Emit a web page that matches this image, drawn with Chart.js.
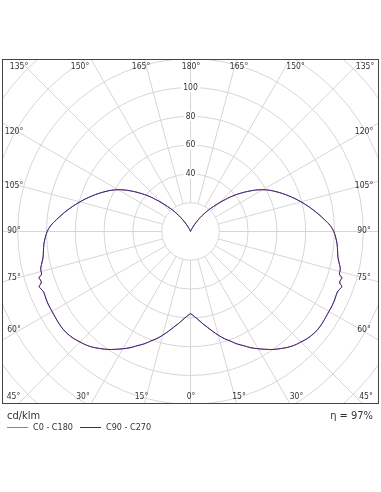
<!DOCTYPE html>
<html>
<head>
<meta charset="utf-8">
<script src="https://cdn.jsdelivr.net/npm/chart.js@4"></script>
<style>
  html, body { margin: 0; padding: 0; background: #fff; }
  canvas { display: block; }
</style>
</head>
<body>
<canvas id="ldc" width="381" height="492"></canvas>
<script>
// gamma angles (deg, 0 = straight down) and intensities in cd/klm
const gammaAngles = [
  0, 2.5, 5, 7.5, 10, 12.5, 15, 17.5, 20, 22.5, 25, 27.5, 30, 32.5, 35, 37.5,
  40, 42.5, 45, 47.5, 50, 52.5, 55, 57.5, 60, 62.5, 65,
  67.5, 69, 70, 71, 72, 73, 74, 75, 76, 77.5,
  80, 82.5, 85, 87.5, 90, 92.5, 95, 97.5, 100, 102.5, 105, 107.5, 110, 112.5, 115, 117.5,
  120, 122.5, 125, 127.5, 130, 132.5, 135, 137.5, 140, 142.5, 145, 147.5, 150, 152.5, 155, 157.5,
  160, 162.5, 165, 167.5, 170, 172.5, 175, 177.5, 180
];
const c0c180 = [
  57, 59, 61.5, 64.5, 67.5, 71, 74.5, 78, 81, 84.5, 87.5, 91, 94, 97, 100, 102.5,
  105, 107, 108.5, 110, 111, 111.5, 111.5, 111.2, 111, 111, 110.7,
  110.3, 111.2, 111.8, 109.6, 109.5, 109.9, 107.6, 107.4, 107.2, 106,
  104, 103, 102.2, 101, 99.5, 97, 93.5, 90, 86.5, 83, 79.5, 76, 72.5, 69, 65.5, 62,
  58, 53.5, 48.5, 43.5, 38.5, 33, 28, 23.5, 19.5, 15.5, 12, 8.5, 5.5, 3, 1.5, 0.5,
  0, 0, 0, 0, 0, 0, 0, 0, 0
];
const c90c270 = [
  57, 59, 61.5, 64.5, 67.5, 71, 74.5, 78, 81, 84.5, 87.5, 91, 94, 97, 100, 102.5,
  105, 107, 108.5, 110, 111, 111.5, 111.5, 111.2, 111, 111, 110.7,
  110.3, 111.2, 111.8, 109.6, 109.5, 109.9, 107.6, 107.4, 107.2, 106,
  104, 103, 102.2, 101, 99.5, 97, 93.5, 90, 86.5, 83, 79.5, 76, 72.5, 69, 65.5, 62,
  58, 53.5, 48.5, 43.5, 38.5, 33, 28, 23.5, 19.5, 15.5, 12, 8.5, 5.5, 3, 1.5, 0.5,
  0, 0, 0, 0, 0, 0, 0, 0, 0
];
const seriesNames = ['C0 - C180', 'C90 - C270'];
const seriesColors = ['#e06060', '#2a2a88'];
const ringValues = [20, 40, 60, 80, 100, 120, 140, 160, 180];
const ringTickLabels = ['40', '60', '80', '100'];
const unitLabel = 'cd/klm';
const efficiencyLabel = 'η = 97%';
const topLabels = ['135°', '150°', '165°', '180°', '165°', '150°', '135°'];
const sideLabels = ['120°', '105°', '90°', '75°', '60°'];
const bottomLabels = ['45°', '30°', '15°', '0°', '15°', '30°', '45°'];

// layout of the frame labels (pixels)
const topX = [19, 80, 141, 191, 239, 295.5, 365];
const bottomX = [13.5, 83, 141.5, 191, 239, 296.5, 366];
const sideY = [131.5, 186, 231, 278, 329.5];
const FONT = '"DejaVu Sans Condensed", "DejaVu Sans", sans-serif';

// one half of the curve: side = 1 right, -1 left
function halfCurve(vals, side) {
  return gammaAngles.map((g, i) => {
    const t = g * Math.PI / 180;
    return { x: side * vals[i] * Math.sin(t), y: -vals[i] * Math.cos(t) };
  });
}

function curveSets(vals, color, order) {
  return [1, -1].map(side => ({
    data: halfCurve(vals, side),
    borderColor: color,
    showLine: true,
    pointRadius: 0,
    borderWidth: 1,
    tension: 0.4,
    order: order
  }));
}

const polarGrid = {
  id: 'polarGrid',
  beforeDatasetsDraw(chart) {
    const { ctx, chartArea: a, scales: { x, y } } = chart;
    const cx = x.getPixelForValue(0), cy = y.getPixelForValue(0);
    const k = x.getPixelForValue(1) - cx;
    ctx.save();
    ctx.beginPath();
    ctx.rect(a.left, a.top, a.width, a.height);
    ctx.clip();
    ctx.strokeStyle = '#d6d6d6';
    ctx.lineWidth = 1;
    ringValues.forEach(r => {
      ctx.beginPath();
      ctx.arc(cx, cy, r * k, 0, Math.PI * 2);
      ctx.stroke();
    });
    for (let g = 0; g < 360; g += 15) {
      const t = g * Math.PI / 180;
      ctx.beginPath();
      ctx.moveTo(cx + 20 * k * Math.sin(t), cy + 20 * k * Math.cos(t));
      ctx.lineTo(cx + 220 * k * Math.sin(t), cy + 220 * k * Math.cos(t));
      ctx.stroke();
    }
    // radial tick labels on the upward axis
    ctx.font = '8.5px ' + FONT;
    ctx.textAlign = 'center';
    ctx.textBaseline = 'middle';
    ringTickLabels.forEach(s => {
      const py = y.getPixelForValue(+s);
      const w = ctx.measureText(s).width + 4;
      ctx.fillStyle = '#fff';
      ctx.fillRect(cx - w / 2, py - 5, w, 10);
      ctx.fillStyle = '#333';
      ctx.fillText(s, cx, py);
    });
    ctx.restore();
  },
  afterDraw(chart) {
    const { ctx, chartArea: a } = chart;
    ctx.save();
    // frame
    ctx.strokeStyle = '#444';
    ctx.lineWidth = 1;
    ctx.strokeRect(a.left + 0.5, a.top + 0.5, a.width - 1, a.height - 1);
    // angle labels
    ctx.font = '8.5px ' + FONT;
    ctx.fillStyle = '#333';
    ctx.textAlign = 'center';
    ctx.textBaseline = 'middle';
    topLabels.forEach((s, i) => ctx.fillText(s, topX[i], 66.5));
    bottomLabels.forEach((s, i) => ctx.fillText(s, bottomX[i], 396.5));
    sideLabels.forEach((s, i) => {
      ctx.fillText(s, 14, sideY[i]);
      ctx.fillText(s, 364, sideY[i]);
    });
    // unit, efficiency and legend
    ctx.font = '11px ' + FONT;
    ctx.textAlign = 'left';
    ctx.fillText(unitLabel, 7, 416.5);
    ctx.textAlign = 'right';
    ctx.fillText(efficiencyLabel, 373, 416.5);
    ctx.font = '9px ' + FONT;
    ctx.textAlign = 'left';
    const legendX = [7, 80];
    seriesNames.forEach((s, i) => {
      ctx.strokeStyle = seriesColors[i];
      ctx.beginPath();
      ctx.moveTo(legendX[i], 427.5);
      ctx.lineTo(legendX[i] + 21, 427.5);
      ctx.stroke();
      ctx.fillStyle = '#333';
      ctx.fillText(s, legendX[i] + 26, 428);
    });
    ctx.restore();
  }
};

new Chart(document.getElementById('ldc'), {
  type: 'scatter',
  data: {
    datasets: [
      ...curveSets(c90c270, seriesColors[1], 0),
      ...curveSets(c0c180, seriesColors[0], 1)
    ]
  },
  options: {
    responsive: false,
    animation: false,
    devicePixelRatio: 1,
    layout: { padding: { left: 2, top: 59, right: 2, bottom: 88 } },
    scales: {
      x: { type: 'linear', display: false, min: -130.9, max: 130.9 },
      y: { type: 'linear', display: false, min: -119.79, max: 119.79 }
    },
    plugins: { legend: { display: false }, tooltip: { enabled: false } }
  },
  plugins: [polarGrid]
});
</script>
</body>
</html>
